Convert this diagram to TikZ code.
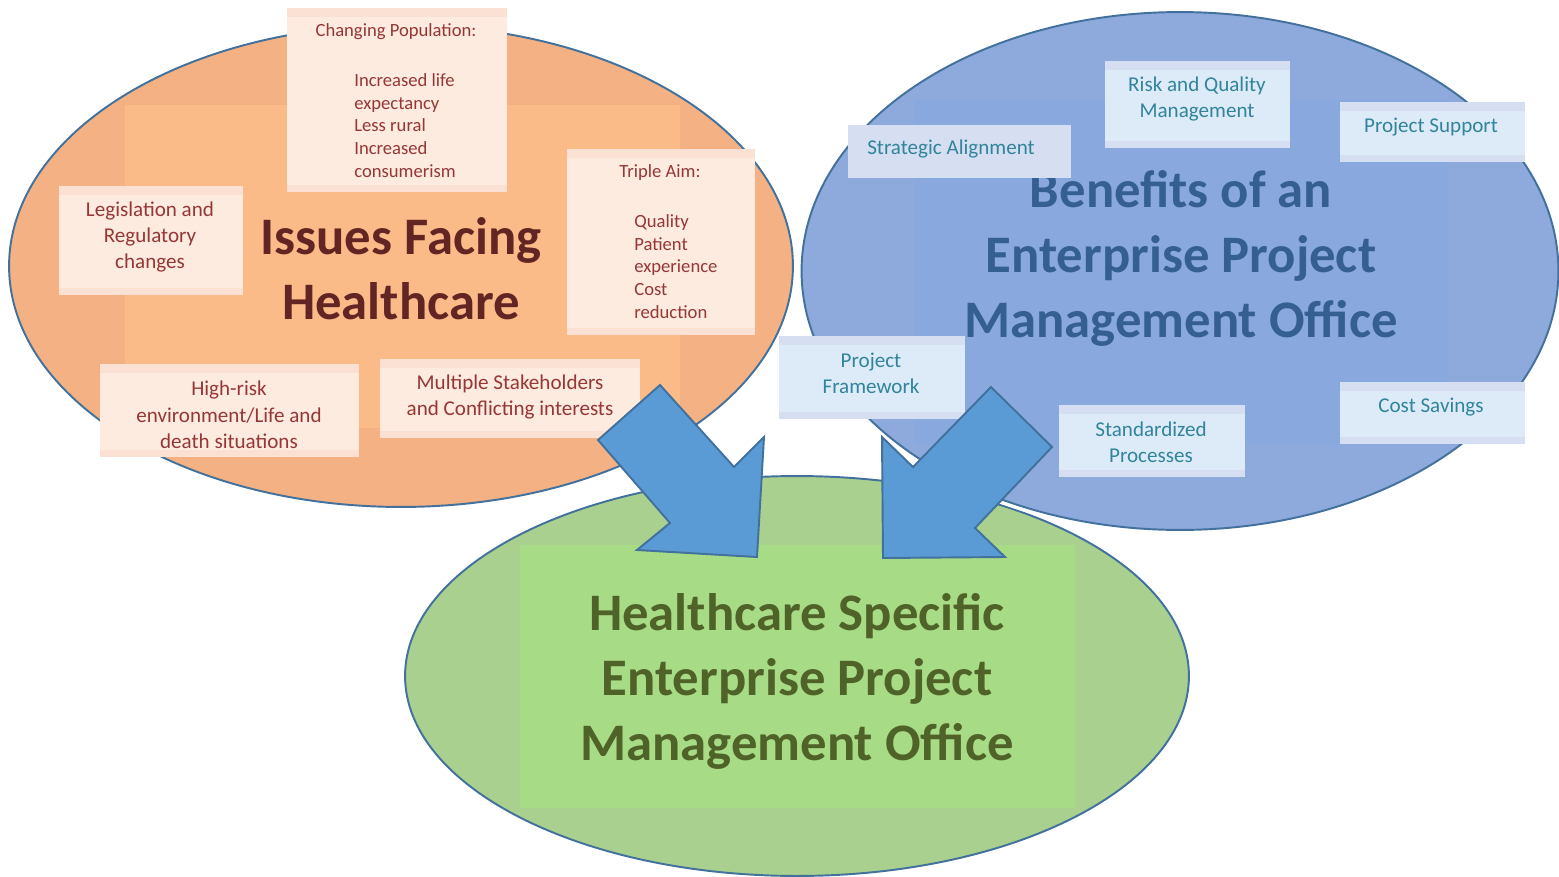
\documentclass[tikz,border=0pt]{standalone}
\usepackage{fontspec}
\setmainfont{Carlito}
\usetikzlibrary{shapes.geometric,fit}
\definecolor{issuefill}{HTML}{F4B183}
\definecolor{issuecore}{HTML}{FBBB89}
\definecolor{issueband}{HTML}{FBE1D3}
\definecolor{issuebox}{HTML}{FDEBDF}
\definecolor{issuetext}{HTML}{953735}
\definecolor{issuetitle}{HTML}{632523}
\definecolor{benefill}{HTML}{8EA9DB}
\definecolor{benecore}{HTML}{89A9DE}
\definecolor{beneband}{HTML}{D6DFF1}
\definecolor{benebox}{HTML}{DDEBF8}
\definecolor{benetext}{HTML}{31849B}
\definecolor{benetitle}{HTML}{365F91}
\definecolor{epmofill}{HTML}{A9D08E}
\definecolor{epmocore}{HTML}{A8DB86}
\definecolor{epmotitle}{HTML}{4F6228}
\definecolor{rim}{HTML}{41719C}
\definecolor{arrowfill}{HTML}{5B9BD5}
\tikzset{
  ring/.style={ellipse, draw=rim, line width=1.1pt, inner sep=0pt, preaction={draw=white, line width=5pt}},
  heading/.style={font=\fontsize{30}{37}\selectfont\bfseries, align=center, inner sep=0pt},
  note/.style={inner sep=0pt, fill=#1band, path picture={\fill[#1box] ([yshift=-0.18cm]path picture bounding box.north west) rectangle ([yshift=0.14cm]path picture bounding box.south east);}},
  notetext/.style={font=\fontsize{12}{15}\selectfont, align=center, inner sep=0pt},
  listfont/.style={font=\fontsize{10.6}{13}\selectfont, align=left, inner sep=0pt},
  bigarrow/.style={fill=arrowfill, draw=rim, line width=1.1pt, line join=miter}
}
\begin{document}
\begin{tikzpicture}[x=0.02cm, y=-0.02cm]
\useasboundingbox (0,0) rectangle (1559,876);

% the three areas
\node[ring, fill=epmofill, minimum width=15.68cm, minimum height=8cm] (epmo) at (797,676) {};
\node[ring, fill=issuefill, minimum width=15.68cm, minimum height=9.64cm] (issues) at (401,266) {};
\node[ring, fill=benefill, minimum width=15.14cm, minimum height=10.36cm] (benefits) at (1180,271) {};

% lighter panels behind the headings
\fill[issuecore] (125,105) rectangle (680,428);
\fill[benecore] (915,100) rectangle (1448,445);
\fill[epmocore] (520,545) rectangle (1075,808);

\node[heading, text=issuetitle] (issuehead) at (401,269) {Issues Facing\\Healthcare};
\node[heading, text=benetitle] (benehead) at (1181,258) {Benefits of an\\Enterprise Project\\Management Office};
\node[heading, text=epmotitle] (epmohead) at (797,681) {Healthcare Specific\\Enterprise Project\\Management Office};

% issues
\node[note=issue, fit={(287,8) (507,192)}] (pop) {};
\node[listfont, text=issuetext] (poptitle) at (396,32) {Changing Population:};
\node[listfont, text=issuetext, anchor=north west] (poplist) at (354,73) {Increased life\\expectancy\\Less rural\\Increased\\consumerism};

\node[note=issue, fit={(567,149) (755,335)}] (aim) {};
\node[listfont, text=issuetext] (aimtitle) at (660,173) {Triple Aim:};
\node[listfont, text=issuetext, anchor=north west] (aimlist) at (634,214) {Quality\\Patient\\experience\\Cost\\reduction};

\node[note=issue, fit={(59,186) (243,295)}] (law) {};
\node[notetext, text=issuetext] (lawtext) at (150,237) {Legislation and\\Regulatory\\changes};

\node[note=issue, fit={(100,364) (359,457)}] (risk) {};
\node[notetext, text=issuetext] (risktext) at (229,415) {High-risk\\environment/Life and\\death situations};

\node[note=issue, fit={(380,359) (640,438)}] (stake) {};
\node[notetext, text=issuetext] (staketext) at (510,397) {Multiple Stakeholders\\and Conflicting interests};

% benefits
\node[note=bene, fit={(1105,61) (1290,148)}] (quality) {};
\node[notetext, text=benetext] (qualitytext) at (1197,99) {Risk and Quality\\Management};

\node[inner sep=0pt, fill=beneband, fit={(848,125) (1071,178)}] (strategy) {};
\node[notetext, text=benetext] (strategytext) at (951,149) {Strategic Alignment};

\node[note=bene, fit={(1340,102) (1525,162)}] (support) {};
\node[notetext, text=benetext] (supporttext) at (1431,127) {Project Support};

\node[note=bene, fit={(779,336) (965,419)}] (frame) {};
\node[notetext, text=benetext] (frametext) at (871,373) {Project\\Framework};

\node[note=bene, fit={(1059,405) (1245,477)}] (std) {};
\node[notetext, text=benetext] (stdtext) at (1151,442) {Standardized\\Processes};

\node[note=bene, fit={(1340,382) (1525,444)}] (cost) {};
\node[notetext, text=benetext] (costtext) at (1431,407) {Cost Savings};

% block arrows into the lower area
\draw[bigarrow] (660,385) -- (734,467) -- (764,437) -- (757,557) -- (637,550) -- (670,523) -- (598,440) -- cycle;
\draw[bigarrow] (991,387) -- (1052,447) -- (975,528) -- (1005,557) -- (883,558) -- (882,437) -- (913,467) -- cycle;
\end{tikzpicture}
\end{document}
